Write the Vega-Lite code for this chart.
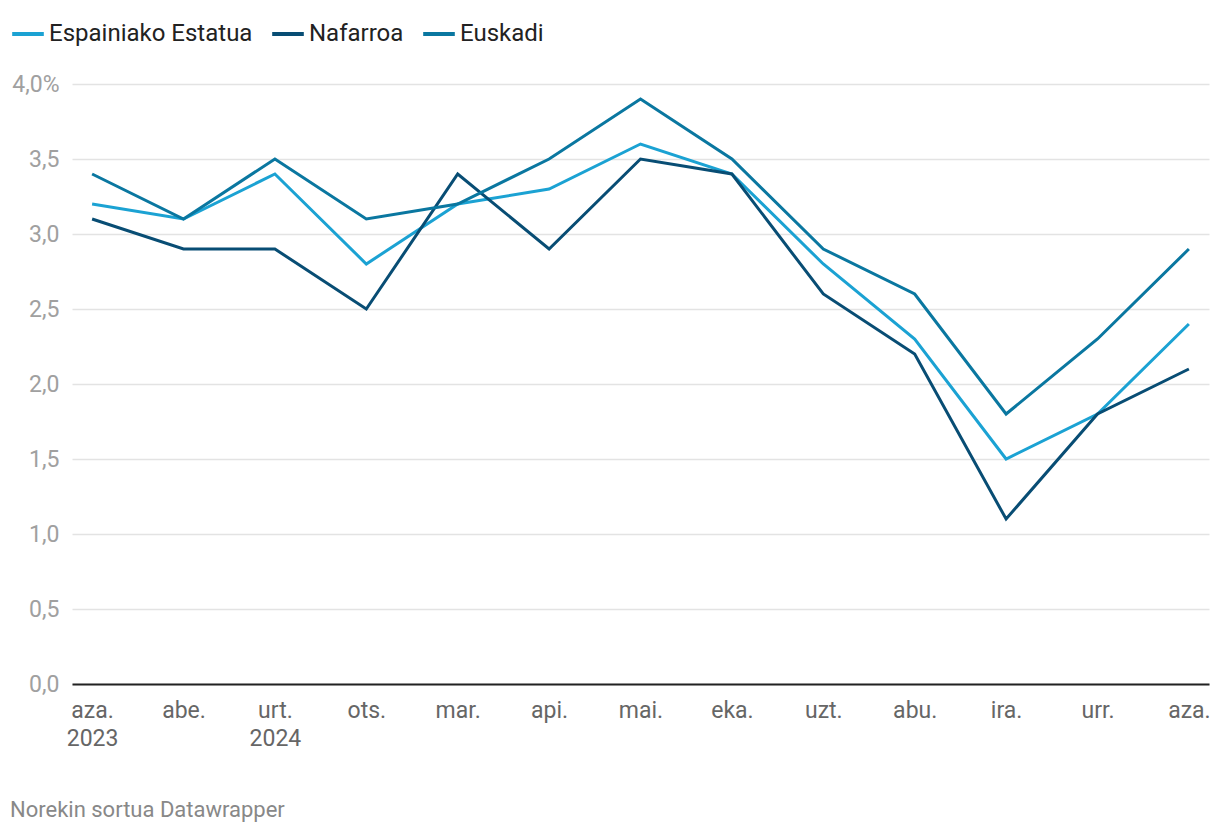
{
  "$schema": "https://vega.github.io/schema/vega-lite/v6.json",
  "width": 1137,
  "height": 600,
  "autosize": {"type": "pad"},
  "padding": {"left": 10, "top": 16, "right": 10, "bottom": 10},
  "background": "white",
  "config": {
    "font": "Roboto",
    "view": {"stroke": null}
  },
  "title": {
    "text": "Norekin sortua Datawrapper",
    "orient": "bottom",
    "anchor": "start",
    "frame": "bounds",
    "fontSize": 22,
    "fontWeight": "normal",
    "color": "#888888",
    "offset": 50
  },
  "data": {
    "values": [
      {"m": "aza. 2023", "s": "Espainiako Estatua", "v": 3.2},
      {"m": "abe.", "s": "Espainiako Estatua", "v": 3.1},
      {"m": "urt. 2024", "s": "Espainiako Estatua", "v": 3.4},
      {"m": "ots.", "s": "Espainiako Estatua", "v": 2.8},
      {"m": "mar.", "s": "Espainiako Estatua", "v": 3.2},
      {"m": "api.", "s": "Espainiako Estatua", "v": 3.3},
      {"m": "mai.", "s": "Espainiako Estatua", "v": 3.6},
      {"m": "eka.", "s": "Espainiako Estatua", "v": 3.4},
      {"m": "uzt.", "s": "Espainiako Estatua", "v": 2.8},
      {"m": "abu.", "s": "Espainiako Estatua", "v": 2.3},
      {"m": "ira.", "s": "Espainiako Estatua", "v": 1.5},
      {"m": "urr.", "s": "Espainiako Estatua", "v": 1.8},
      {"m": "aza.", "s": "Espainiako Estatua", "v": 2.4},
      {"m": "aza. 2023", "s": "Nafarroa", "v": 3.1},
      {"m": "abe.", "s": "Nafarroa", "v": 2.9},
      {"m": "urt. 2024", "s": "Nafarroa", "v": 2.9},
      {"m": "ots.", "s": "Nafarroa", "v": 2.5},
      {"m": "mar.", "s": "Nafarroa", "v": 3.4},
      {"m": "api.", "s": "Nafarroa", "v": 2.9},
      {"m": "mai.", "s": "Nafarroa", "v": 3.5},
      {"m": "eka.", "s": "Nafarroa", "v": 3.4},
      {"m": "uzt.", "s": "Nafarroa", "v": 2.6},
      {"m": "abu.", "s": "Nafarroa", "v": 2.2},
      {"m": "ira.", "s": "Nafarroa", "v": 1.1},
      {"m": "urr.", "s": "Nafarroa", "v": 1.8},
      {"m": "aza.", "s": "Nafarroa", "v": 2.1},
      {"m": "aza. 2023", "s": "Euskadi", "v": 3.4},
      {"m": "abe.", "s": "Euskadi", "v": 3.1},
      {"m": "urt. 2024", "s": "Euskadi", "v": 3.5},
      {"m": "ots.", "s": "Euskadi", "v": 3.1},
      {"m": "mar.", "s": "Euskadi", "v": 3.2},
      {"m": "api.", "s": "Euskadi", "v": 3.5},
      {"m": "mai.", "s": "Euskadi", "v": 3.9},
      {"m": "eka.", "s": "Euskadi", "v": 3.5},
      {"m": "uzt.", "s": "Euskadi", "v": 2.9},
      {"m": "abu.", "s": "Euskadi", "v": 2.6},
      {"m": "ira.", "s": "Euskadi", "v": 1.8},
      {"m": "urr.", "s": "Euskadi", "v": 2.3},
      {"m": "aza.", "s": "Euskadi", "v": 2.9}
    ]
  },
  "mark": {"type": "line", "strokeWidth": 3, "interpolate": "linear", "strokeJoin": "miter"},
  "encoding": {
    "x": {
      "field": "m",
      "type": "ordinal",
      "sort": null,
      "scale": {"type": "point", "padding": 0.22},
      "axis": {
        "title": null,
        "labelAngle": 0,
        "labelExpr": "split(datum.label, ' ')",
        "labelFontSize": 23,
        "labelColor": "#666666",
        "labelPadding": 15,
        "labelLineHeight": 28,
        "labelBaseline": "top",
        "ticks": false,
        "domain": true,
        "domainColor": "#222222",
        "domainWidth": 2,
        "grid": false
      }
    },
    "y": {
      "field": "v",
      "type": "quantitative",
      "scale": {"domain": [0, 4], "nice": false},
      "axis": {
        "title": null,
        "values": [0, 0.5, 1, 1.5, 2, 2.5, 3, 3.5, 4],
        "labelExpr": "datum.value == 4 ? '4,0%' : replace(format(datum.value, '.1f'), '.', ',')",
        "labelFontSize": 23,
        "labelColor": "#a0a0a0",
        "labelPadding": 13,
        "ticks": false,
        "domain": false,
        "grid": true,
        "gridColor": "#e3e3e3",
        "gridWidth": 1.5
      }
    },
    "color": {
      "field": "s",
      "type": "nominal",
      "scale": {
        "domain": ["Espainiako Estatua", "Nafarroa", "Euskadi"],
        "range": ["#1ba2d3", "#084d74", "#0a77a0"]
      },
      "legend": {
        "title": null,
        "orient": "none",
        "legendX": -62,
        "legendY": -68,
        "direction": "horizontal",
        "symbolType": "stroke",
        "symbolSize": 1000,
        "symbolStrokeWidth": 4,
        "labelFontSize": 24,
        "labelLimit": 500,
        "labelColor": "#222222",
        "labelOffset": 3,
        "columnPadding": 11
      }
    }
  }
}
